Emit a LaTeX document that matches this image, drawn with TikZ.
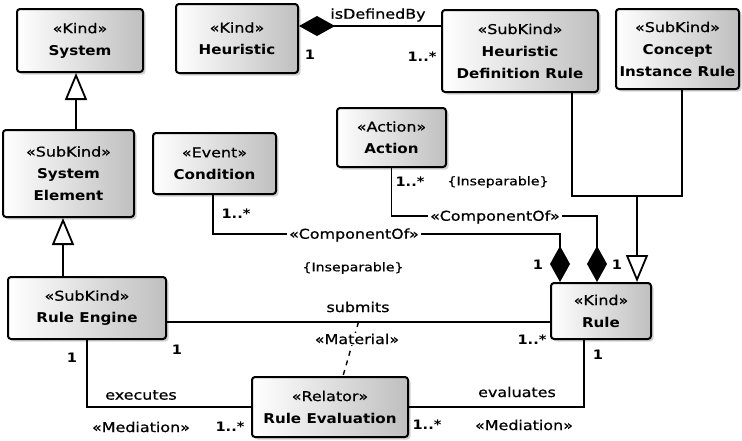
\documentclass[tikz,border=0pt]{standalone}
\usepackage{fontspec}
\setmainfont{DejaVu Sans}[FakeStretch=1.18, FakeBold=0.7]
\newfontfamily\namefont{DejaVu Sans}[FakeStretch=1.12]
\newcommand\clsname{\namefont\bfseries}
\usetikzlibrary{arrows.meta,shadows,calc}

\begin{document}
\begin{tikzpicture}[x=1pt,y=-1pt,
  every node/.style={font=\fontsize{13.5}{22}\selectfont},
  cls/.style={draw=black, line width=2pt, rounded corners=3pt,
    left color=white, right color=black!25,
    drop shadow={shadow xshift=2.5pt, shadow yshift=-2.5pt, opacity=0.35},
    align=center, inner sep=0pt},
  lbl/.style={inner sep=1pt},
  mult/.style={inner sep=1pt, font=\fontsize{13}{15}\selectfont\clsname},
  mask/.style={fill=white, inner sep=2pt},
  cons/.style={inner sep=1pt, font=\fontsize{12}{14}\selectfont},
  link/.style={line width=1.8pt},
  gen/.style={link, -{Triangle[open, length=27pt, width=22pt]}},
  comp/.style={link, {Diamond[length=36pt, width=20pt]}-}
]
\useasboundingbox (0,0) rectangle (742,440);

% classes
\node[cls, minimum width=126pt, minimum height=63pt] (system) at (80,40.5) {«Kind»\\{\clsname System}};
\node[cls, minimum width=122pt, minimum height=69pt] (heur) at (237,38.5) {«Kind»\\{\clsname Heuristic}};
\node[cls, minimum width=156pt, minimum height=82pt] (hdr) at (520,51) {«SubKind»\\{\clsname Heuristic}\\{\clsname Definition Rule}};
\node[cls, minimum width=123pt, minimum height=80pt] (cir) at (677.5,49) {«SubKind»\\{\clsname Concept}\\{\clsname Instance Rule}};
\node[cls, minimum width=131pt, minimum height=87pt] (sysel) at (68.5,173.5) {«SubKind»\\{\clsname System}\\{\clsname Element}};
\node[cls, minimum width=123pt, minimum height=61pt] (cond) at (214.5,163.5) {«Event»\\{\clsname Condition}};
\node[cls, minimum width=109pt, minimum height=59pt] (action) at (391.5,137.5) {«Action»\\{\clsname Action}};
\node[cls, minimum width=158pt, minimum height=62pt] (ruleeng) at (87,308) {«SubKind»\\{\clsname Rule Engine}};
\node[cls, minimum width=156pt, minimum height=60pt] (ruleeval) at (330,407) {«Relator»\\{\clsname Rule Evaluation}};
\node[cls, minimum width=100pt, minimum height=56pt] (rule) at (601,311) {«Kind»\\{\clsname Rule}};

% generalizations
\draw[gen] ([xshift=-24pt]ruleeng.north) -- ([xshift=-5.5pt]sysel.south);
\draw[gen] ([xshift=7.5pt]sysel.north) -- ([xshift=-4pt]system.south);
\coordinate (gjoin) at (637,196);
\draw[link] ([xshift=52pt]hdr.south) |- (gjoin) -| ([xshift=4.5pt]cir.south);
\draw[gen] (gjoin) -- ([xshift=36pt]rule.north);

% compositions
\draw[comp] ([yshift=12.5pt]heur.east) -- ([yshift=25pt]hdr.west);
\draw[comp] ([xshift=-4pt]rule.north) -- ++(0,-66) -| (action.south);
\draw[comp] ([xshift=-41pt]rule.north) -- ++(0,-48) -| ([xshift=-1.5pt]cond.south);

% material association and its relator
\draw[link] ([yshift=-14pt]ruleeng.east) -- coordinate[pos=0.5] (assoc) ([yshift=-11pt]rule.west);
\draw[line width=1.4pt, dash pattern=on 5pt off 5pt] (assoc) -- ([xshift=13pt]ruleeval.north);

% mediations
\draw[link] (ruleeng.south) |- (ruleeval.west);
\draw[link] ([xshift=-17pt]rule.south) |- (ruleeval.east);

% role names, stereotypes and constraints
\node[lbl] (l1) at (378,15) {isDefinedBy};
\node[mask] (l4) at (495,217) {«ComponentOf»};
\node[cons] (l6) at (498,182) {\{Inseparable\}};
\node[mask] (l8) at (354,235) {«ComponentOf»};
\node[cons] (l9) at (353,268) {\{Inseparable\}};
\node[lbl] (l12) at (358,307) {submits};
\node[mask, inner sep=1pt] (l13) at (357,339) {«Material»};
\node[lbl] (l16) at (141,395) {executes};
\node[lbl] (l17) at (141,427) {«Mediation»};
\node[lbl] (l20) at (517,392) {evaluates};
\node[lbl] (l21) at (524,425) {«Mediation»};

% multiplicities
\node[mult] (m1) at (310,55) {1};
\node[mult] (m2) at (422,57) {1..*};
\node[mult] (m3) at (410,182) {1..*};
\node[mult] (m4) at (617,265) {1};
\node[mult] (m5) at (236,214) {1..*};
\node[mult] (m6) at (538,265) {1};
\node[mult] (m7) at (177,350) {1};
\node[mult] (m8) at (532,340) {1..*};
\node[mult] (m9) at (72,358) {1};
\node[mult] (m10) at (230,427) {1..*};
\node[mult] (m11) at (598,355) {1};
\node[mult] (m12) at (427,425) {1..*};
\end{tikzpicture}
\end{document}
